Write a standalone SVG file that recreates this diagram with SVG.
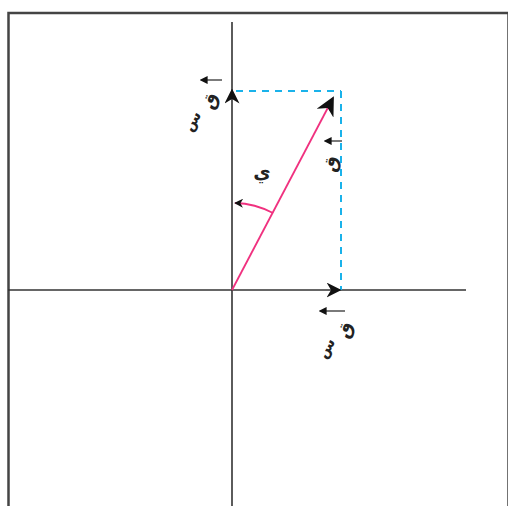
<svg xmlns="http://www.w3.org/2000/svg" width="508" height="506" viewBox="0 0 508 506">
<style>
.ax{stroke:#333;stroke-width:1.6;fill:none}
.dash{stroke:#1ab2ea;stroke-width:2;stroke-dasharray:7,6;fill:none}
.vec{stroke:#f0317f;stroke-width:1.8;fill:none}
.lbl{font-family:"DejaVu Sans","Noto Sans",sans-serif;fill:#222;font-weight:bold}
.small{stroke:#222;stroke-width:1.2;fill:none}
</style>
<defs>
<marker id="ah" viewBox="0 0 10 10" refX="9" refY="5" markerWidth="9" markerHeight="9" orient="auto" markerUnits="userSpaceOnUse">
<path d="M0,0 L10,5 L0,10 L3,5 Z" fill="#111"/>
</marker>
<marker id="big" viewBox="0 0 10 10" refX="9" refY="5" markerWidth="19" markerHeight="19" orient="auto" markerUnits="userSpaceOnUse">
<path d="M0,0 L10,5 L0,10 L3,5 Z" fill="#111"/>
</marker>
<marker id="mid" viewBox="0 0 10 10" refX="9" refY="5" markerWidth="15" markerHeight="15" orient="auto" markerUnits="userSpaceOnUse">
<path d="M0,0 L10,5 L0,10 L3,5 Z" fill="#111"/>
</marker>
<marker id="sm" viewBox="0 0 10 10" refX="2" refY="5" markerWidth="8" markerHeight="8" orient="auto" markerUnits="userSpaceOnUse">
<path d="M0,0 L10,5 L0,10 Z" fill="#111"/>
</marker>
</defs>
<rect x="8.5" y="13" width="500" height="500" fill="none" stroke="#444" stroke-width="2.5"/>
<g id="connectors">
<line class="ax" x1="232" y1="22" x2="232" y2="506"/>
<line class="ax" x1="8" y1="290" x2="466" y2="290"/>
<line class="dash" x1="236" y1="91" x2="341" y2="91"/>
<line class="dash" x1="341" y1="91" x2="341" y2="290"/>
<path d="M232,120 L232,90" stroke="none" fill="none" marker-end="url(#mid)"/>
<path d="M300,290 L340,290" stroke="none" fill="none" marker-end="url(#mid)"/>
<line class="vec" x1="232" y1="290" x2="333" y2="98" marker-end="url(#big)"/>
<path class="vec" d="M273,213 A87,87 0 0 0 235,203" marker-end="url(#ah)"/>
</g>
<g id="label-fy">
<line class="small" x1="222" y1="80" x2="206" y2="80" marker-end="url(#sm)"/>
<text class="lbl" x="210" y="107" font-size="18" text-anchor="middle" transform="rotate(-70 210 101)">ق</text>
<text class="lbl" x="192" y="126" font-size="15" text-anchor="middle" transform="rotate(-60 192 121)">س</text>
</g>
<g id="label-f">
<line class="small" x1="342" y1="141" x2="330" y2="141" marker-end="url(#sm)"/>
<text class="lbl" x="331" y="170" font-size="18" text-anchor="middle" transform="rotate(-80 331 164)">ق</text>
</g>
<g id="label-fx">
<line class="small" x1="345" y1="311" x2="325" y2="311" marker-end="url(#sm)"/>
<text class="lbl" x="345" y="336" font-size="18" text-anchor="middle" transform="rotate(-70 345 330)">ق</text>
<text class="lbl" x="326" y="353" font-size="15" text-anchor="middle" transform="rotate(-60 326 348)">س</text>
</g>
<g id="label-theta">
<text class="lbl" x="262" y="178" font-size="19" text-anchor="middle">ي</text>
</g>
</svg>
